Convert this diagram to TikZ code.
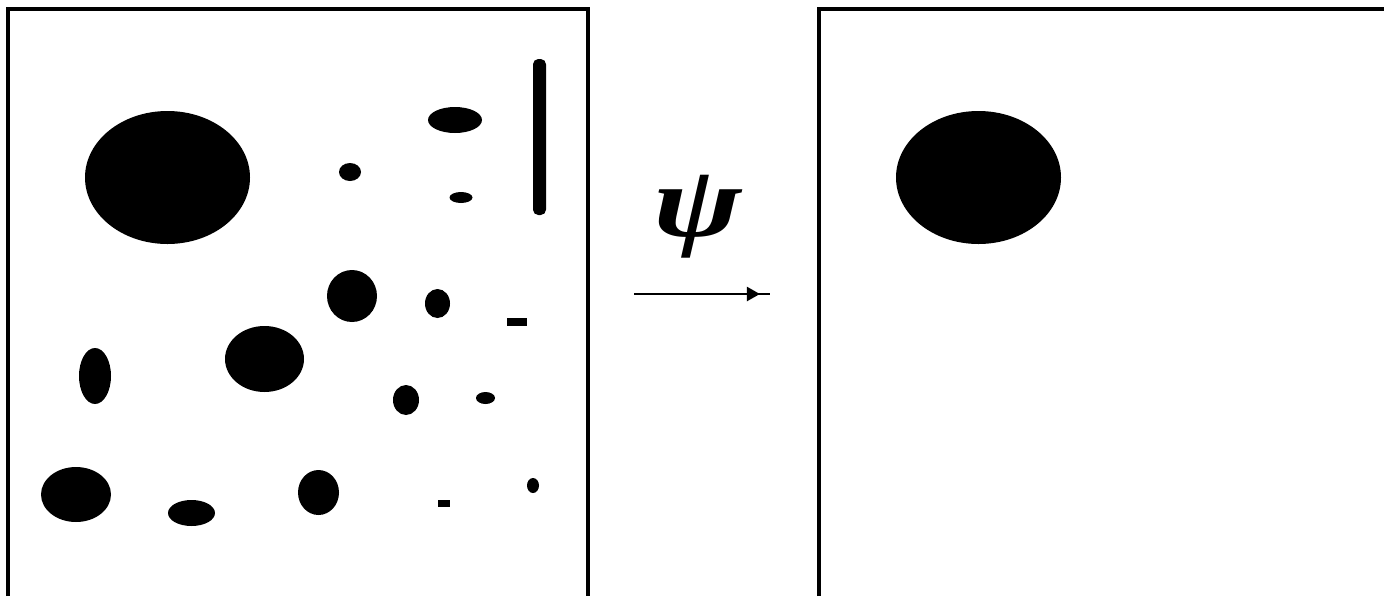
\documentclass[tikz,border=0pt]{standalone}
\usepackage{fontspec}
\newfontfamily\psifont{Liberation Serif}
\usetikzlibrary{arrows.meta,decorations.markings}

\begin{document}
\begin{tikzpicture}[x=0.02cm, y=-0.02cm,
    frame/.style={line width=2.7pt},
    blob/.style={fill=black},
    psilabel/.style={inner sep=0pt, xscale=1.3, font={\psifont\bfseries\itshape\fontsize{58}{66}\selectfont}},
    maparrow/.style={line width=1.3pt,
        postaction={decorate},
        decoration={markings, mark=at position 0.926 with {\arrow{Triangle[length=0.26cm, width=0.28cm]}}}}]
    \useasboundingbox (0,0) rectangle (1384,596);
    % 左边：原图像
    \begin{scope}
        \draw[frame] (8,596) -- (8,9) -- (588,9) -- (588,596);
        % 椭圆斑点
        \foreach \cx/\cy/\rx/\ry in {167.5/177.5/82.5/66.5, 350/172/11/9, 455/120/27/13,
                461/197.5/11.5/5.5, 95/376/16/28, 264.5/359/39.5/33, 352/296/25/26,
                437.5/303.5/12.5/14.5, 406/400/13/15, 485.5/398/9.5/6, 76/494.5/35/27.5,
                191.5/513/23.5/13, 318.5/492.5/20.5/22.5, 533/485.5/6/7.5} {
            \fill[blob] (\cx,\cy) ellipse [x radius=\rx*0.02cm, y radius=\ry*0.02cm];
        }
        % 细长条和小方块
        \fill[blob, rounded corners=3pt] (533,59) rectangle (546,215);
        \fill[blob] (507,318) rectangle (527,326);
        \fill[blob] (438,500) rectangle (450,507);
    \end{scope}

    % 中间：变换
    \node[psilabel] (psi) at (698,216.5) {ψ};
    \coordinate (from) at (634,294);
    \coordinate (to) at (770,294);
    \draw[maparrow] (from) -- (to);

    % 右边：结果
    \begin{scope}[shift={(811,0)}]
        \draw[frame] (8,596) -- (8,9) -- (573,9);
        \fill[blob] (167.5,177.5) ellipse [x radius=82.5*0.02cm, y radius=66.5*0.02cm];
    \end{scope}
\end{tikzpicture}
\end{document}
